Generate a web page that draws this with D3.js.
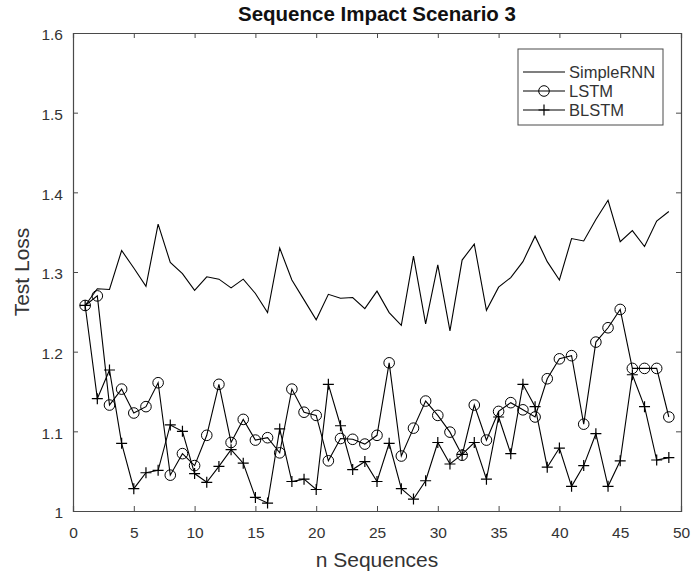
<!DOCTYPE html>
<html>
<head>
<meta charset="utf-8">
<script src="https://cdn.jsdelivr.net/npm/d3@7"></script>
<style>
  body { margin: 0; background: #fff; }
  svg { display: block; font-family: "Liberation Sans", Arial, Helvetica, sans-serif; }
</style>
</head>
<body>
<svg id="chart" width="691" height="575"></svg>
<script>
// n Sequences 1..49
const nSeq = d3.range(1, 50);

const simpleRNN = [1.258, 1.279, 1.278, 1.327, 1.305, 1.282, 1.360, 1.312, 1.298, 1.277,
  1.294, 1.291, 1.280, 1.291, 1.273, 1.249, 1.330, 1.290, 1.265, 1.240,
  1.272, 1.267, 1.268, 1.254, 1.276, 1.249, 1.233, 1.320, 1.235, 1.309,
  1.226, 1.315, 1.335, 1.252, 1.281, 1.293, 1.313, 1.345, 1.313, 1.290,
  1.342, 1.339, 1.366, 1.390, 1.338, 1.352, 1.332, 1.364, 1.376];

const lstm = [1.258, 1.270, 1.133, 1.153, 1.123, 1.131, 1.161, 1.045, 1.072, 1.057,
  1.095, 1.159, 1.086, 1.115, 1.089, 1.092, 1.073, 1.153, 1.124, 1.120,
  1.063, 1.091, 1.090, 1.084, 1.095, 1.186, 1.069, 1.104, 1.138, 1.120,
  1.099, 1.070, 1.133, 1.089, 1.125, 1.136, 1.127, 1.118, 1.166, 1.191,
  1.195, 1.109, 1.212, 1.230, 1.253, 1.179, 1.179, 1.179, 1.118];

const blstm = [1.258, 1.141, 1.177, 1.085, 1.028, 1.048, 1.051, 1.108, 1.100, 1.047,
  1.036, 1.056, 1.077, 1.060, 1.017, 1.010, 1.103, 1.037, 1.040, 1.027,
  1.159, 1.107, 1.052, 1.062, 1.037, 1.085, 1.028, 1.015, 1.038, 1.086,
  1.059, 1.071, 1.086, 1.040, 1.118, 1.072, 1.159, 1.131, 1.055, 1.079,
  1.031, 1.057, 1.097, 1.031, 1.063, 1.171, 1.131, 1.064, 1.067];

const xTicks = [0, 5, 10, 15, 20, 25, 30, 35, 40, 45, 50];
const yTicks = [1, 1.1, 1.2, 1.3, 1.4, 1.5, 1.6];

const seriesNames = ["SimpleRNN", "LSTM", "BLSTM"];
const seriesMarkers = ["none", "circle", "plus"];

const svg = d3.select("#chart");
const plotL = 73, plotR = 681, plotT = 33, plotB = 511;
const axisColor = "#4a4a4a";
const textColor = "#333";

const x = d3.scaleLinear().domain([0, 50]).range([plotL, plotR]);
const y = d3.scaleLinear().domain([1, 1.6]).range([plotB, plotT]);

// 軸（目盛りは内側、四辺）
const tickLen = 5;
const axes = svg.append("g");
axes.append("g")
  .attr("transform", `translate(0,${plotB})`)
  .call(d3.axisBottom(x).tickValues(xTicks).tickSize(-tickLen).tickPadding(16).tickFormat(d3.format("d")));
axes.append("g")
  .attr("transform", `translate(0,${plotT})`)
  .call(d3.axisTop(x).tickValues(xTicks).tickSize(-tickLen).tickFormat(""));
const yAxisG = axes.append("g")
  .attr("transform", `translate(${plotL},0)`)
  .call(d3.axisLeft(y).tickValues(yTicks).tickSize(-tickLen).tickPadding(10).tickFormat(d => d3.format("~g")(d)));
yAxisG.selectAll(".tick text").attr("dy", "0.45em");
axes.append("g")
  .attr("transform", `translate(${plotR},0)`)
  .call(d3.axisRight(y).tickValues(yTicks).tickSize(-tickLen).tickFormat(""));
axes.selectAll(".domain").attr("stroke", axisColor).attr("stroke-width", 1.2);
axes.selectAll(".tick line").attr("stroke", axisColor);
axes.selectAll(".tick text").attr("fill", textColor).style("font-size", "15.5px");

// タイトル・軸ラベル
svg.append("text")
  .attr("x", (plotL + plotR) / 2).attr("y", 21)
  .attr("text-anchor", "middle")
  .style("font-size", "20.5px").style("font-weight", "bold")
  .attr("fill", "#111")
  .text("Sequence Impact Scenario 3");
svg.append("text")
  .attr("x", (plotL + plotR) / 2).attr("y", 567)
  .attr("text-anchor", "middle")
  .style("font-size", "21px").attr("fill", textColor)
  .text("n Sequences");
svg.append("text")
  .attr("transform", `translate(29,${(plotT + plotB) / 2}) rotate(-90)`)
  .attr("text-anchor", "middle")
  .style("font-size", "21px").attr("fill", textColor)
  .text("Test Loss");

// 線
const line = d3.line().x((d, i) => x(nSeq[i])).y(d => y(d));
const allSeries = [simpleRNN, lstm, blstm];

function drawMarker(g, type, cx, cy) {
  if (type === "circle") {
    g.append("circle").attr("cx", cx).attr("cy", cy).attr("r", 5.3)
      .attr("fill", "none").attr("stroke", "#000").attr("stroke-width", 1);
  } else if (type === "plus") {
    g.append("path")
      .attr("d", `M${cx - 5.5},${cy}H${cx + 5.5}M${cx},${cy - 5.5}V${cy + 5.5}`)
      .attr("stroke", "#000").attr("stroke-width", 1.2);
  }
}

allSeries.forEach((vals, k) => {
  const g = svg.append("g");
  g.append("path").datum(vals)
    .attr("d", line)
    .attr("fill", "none").attr("stroke", "#000").attr("stroke-width", 1.1);
  vals.forEach((v, i) => drawMarker(g, seriesMarkers[k], x(nSeq[i]), y(v)));
});

// 凡例
const legend = svg.append("g");
legend.append("rect")
  .attr("x", 518).attr("y", 49).attr("width", 145).attr("height", 76)
  .attr("fill", "#fff").attr("stroke", axisColor).attr("stroke-width", 1);
seriesNames.forEach((name, k) => {
  const ly = 72 + k * 19;
  legend.append("line").attr("x1", 523).attr("x2", 565).attr("y1", ly).attr("y2", ly)
    .attr("stroke", "#000").attr("stroke-width", 1.1);
  drawMarker(legend, seriesMarkers[k], 544, ly);
  legend.append("text").attr("x", 569).attr("y", ly + 6)
    .style("font-size", "16.5px").attr("fill", textColor).text(name);
});
</script>
</body>
</html>
